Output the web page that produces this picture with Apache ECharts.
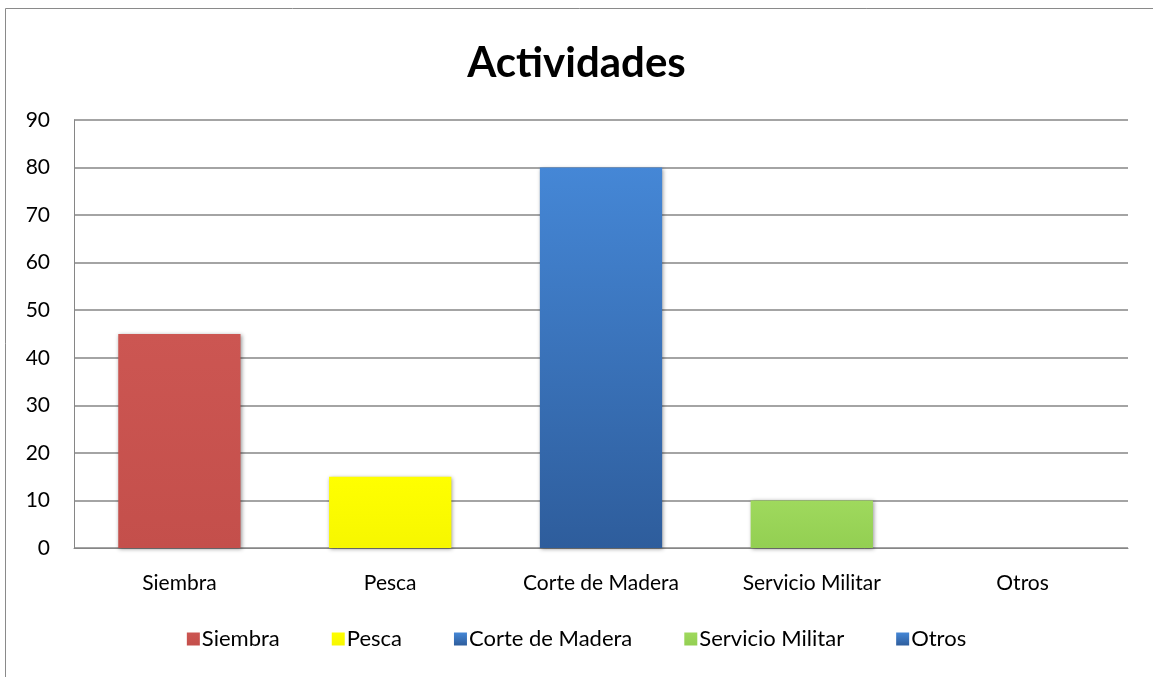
<!DOCTYPE html>
<html>
<head>
<meta charset="utf-8">
<script src="https://cdn.jsdelivr.net/npm/echarts@6/dist/echarts.min.js"></script>
<style>
    html, body { margin: 0; padding: 0; background: #fff; }
    #main { width: 1153px; height: 677px; }
</style>
</head>
<body>
<div id="main"></div>
<script>
// datos
const categories = ['Siembra', 'Pesca', 'Corte de Madera', 'Servicio Militar', 'Otros'];
const values = [45, 15, 80, 10, 0];
const yTicks = [0, 10, 20, 30, 40, 50, 60, 70, 80, 90];

// colores tipo Excel (claro arriba, oscuro abajo)
const colorsTop = ['#cc5652', '#ffff00', '#4587d6', '#9fd95d', '#4587d6'];
const colorsBottom = ['#c44f4b', '#f7f700', '#2e5d9c', '#93cf52', '#2e5d9c'];

const chart = echarts.init(document.getElementById('main'));
const font = 'Lato, "Open Sans", sans-serif';

const grad = (i) => new echarts.graphic.LinearGradient(0, 0, 0, 1, [
    { offset: 0, color: colorsTop[i] },
    { offset: 1, color: colorsBottom[i] }
]);

// una serie por categoria, apiladas para que queden centradas
const series = categories.map((name, i) => ({
    name: name,
    type: 'bar',
    stack: 'total',
    barWidth: '58%',
    data: categories.map((c, j) => (j === i ? values[i] : '-')),
    itemStyle: {
        color: grad(i),
        borderWidth: 0,
        shadowColor: 'rgba(0,0,0,0.4)',
        shadowBlur: 4,
        shadowOffsetX: 1,
        shadowOffsetY: 1
    }
}));

const option = {
    animation: false,
    textStyle: { fontFamily: font },
    graphic: [{
        type: 'rect',
        shape: { x: 5.5, y: 8.5, width: 1300, height: 800 },
        style: { fill: 'none', stroke: '#8a8a8a', lineWidth: 1 },
        silent: true
    }],
    title: {
        text: 'Actividades',
        left: 'center',
        top: 37,
        textStyle: { fontFamily: font, fontSize: 42, fontWeight: 'bold', color: '#000' }
    },
    legend: {
        bottom: 22,
        left: 'center',
        icon: 'rect',
        itemWidth: 13,
        itemHeight: 13,
        itemGap: 52,
        textStyle: { fontFamily: font, fontSize: 22, color: '#000', padding: [0, 0, 0, -3] },
        data: categories
    },
    grid: { left: 74, right: 25, top: 120, bottom: 129 },
    xAxis: {
        type: 'category',
        data: categories,
        axisLine: { lineStyle: { color: '#868686', width: 1 } },
        axisTick: { show: false },
        axisLabel: { fontFamily: font, fontSize: 21, color: '#000', margin: 25 }
    },
    yAxis: {
        type: 'value',
        min: yTicks[0],
        max: yTicks[yTicks.length - 1],
        interval: 10,
        axisLine: { show: true, lineStyle: { color: '#868686', width: 1 } },
        axisTick: { show: false },
        axisLabel: { fontFamily: font, fontSize: 21, color: '#000', margin: 24 },
        splitLine: { lineStyle: { color: '#868686', width: 1.5 } }
    },
    series: series
};

chart.setOption(option);
</script>
</body>
</html>
